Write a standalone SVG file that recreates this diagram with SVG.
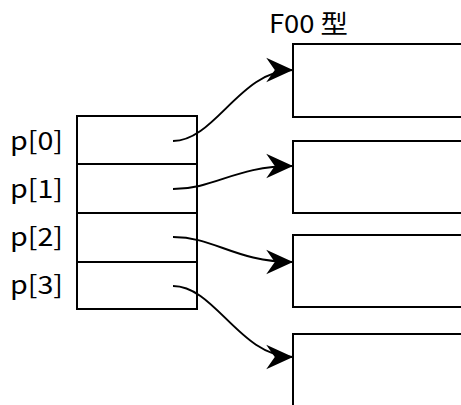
<svg xmlns="http://www.w3.org/2000/svg" width="461" height="405" viewBox="0 0 461 405">
<style>
.box{fill:#fff;stroke:#000;stroke-width:2}
.lbl{font-family:"Noto Sans CJK JP","DejaVu Sans",sans-serif;font-size:25px;fill:#000}
.ttl{font-family:"Noto Sans CJK JP","DejaVu Sans",sans-serif;font-size:25px;fill:#000}
.con{fill:none;stroke:#000;stroke-width:2}
</style>
<defs>
<marker id="ah" markerUnits="userSpaceOnUse" markerWidth="30" markerHeight="30" viewBox="-26 -13 28 26" refX="0" refY="0" orient="auto">
<path d="M0,0 L-25,-11.5 L-17,0 L-25,11.5 Z" fill="#000"/>
</marker>
</defs>
<text class="ttl" x="269" y="33" textLength="79" lengthAdjust="spacingAndGlyphs">F00 型</text>
<g id="array">
<rect class="box" x="77" y="116" width="120" height="193"/>
<line class="con" x1="77" y1="164" x2="197" y2="164"/>
<line class="con" x1="77" y1="213" x2="197" y2="213"/>
<line class="con" x1="77" y1="262" x2="197" y2="262"/>
<text class="lbl" x="10" y="150" textLength="53" lengthAdjust="spacingAndGlyphs">p[0]</text>
<text class="lbl" x="10" y="198" textLength="53" lengthAdjust="spacingAndGlyphs">p[1]</text>
<text class="lbl" x="10" y="246" textLength="53" lengthAdjust="spacingAndGlyphs">p[2]</text>
<text class="lbl" x="10" y="294" textLength="53" lengthAdjust="spacingAndGlyphs">p[3]</text>
</g>
<g id="foo0"><rect class="box" x="293" y="44" width="180" height="73"/></g>
<g id="foo1"><rect class="box" x="293" y="141" width="180" height="72"/></g>
<g id="foo2"><rect class="box" x="293" y="235" width="180" height="72"/></g>
<g id="foo3"><rect class="box" x="293" y="334" width="180" height="90"/></g>
<g id="connectors">
<path class="con" marker-end="url(#ah)" d="M173,141 C215,141 240,70 293,70"/>
<path class="con" marker-end="url(#ah)" d="M173,189 C215,189 235,166 293,166"/>
<path class="con" marker-end="url(#ah)" d="M173,237 C215,237 235,262 293,262"/>
<path class="con" marker-end="url(#ah)" d="M173,286 C215,286 240,357 293,357"/>
</g>
</svg>
